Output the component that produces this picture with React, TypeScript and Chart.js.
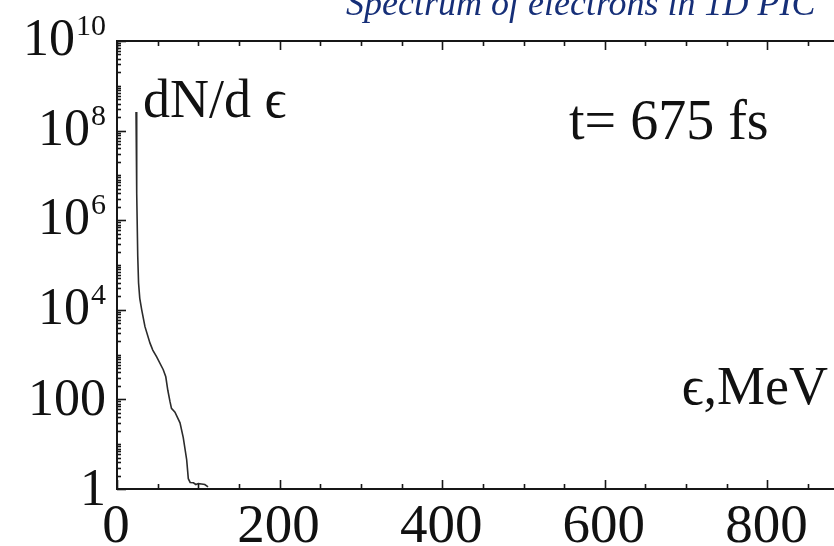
import React, { useEffect, useRef } from "react";
import { Chart, registerables } from "chart.js";

Chart.register(...registerables);

// Electron energy (MeV) and spectrum dN/dε
const energyMeV = [23.4, 24.0, 24.5, 25.5, 26.5, 28.0, 30.4, 34.4, 40.6, 44.0, 48.8, 56.9, 60.0, 62.5, 65.2, 67.0, 71.3, 77.5, 81.5, 85.7, 87.7, 90.0, 94.0, 97.0, 100.0, 104.0, 108.0, 112.0];
const dNdE = [2.6e8, 3.2e7, 4.0e6, 1.6e5, 4.0e4, 1.8e4, 1.0e4, 4200, 1800, 1260, 890, 460, 320, 160, 89, 63, 52, 30, 14, 4.5, 1.7, 1.4, 1.38, 1.26, 1.32, 1.29, 1.26, 1.12];

const xMin = 0;
const xMax = 1000;
const xTickValues = [0, 200, 400, 600, 800, 1000];
const xTickLabels = ["0", "200", "400", "600", "800", "1000"];
const xMinorStep = 50;

const yMin = 1;
const yMax = 1e10;
const yTickValues = [1, 1e2, 1e4, 1e6, 1e8, 1e10];
const yTickBases = ["1", "100", "10", "10", "10", "10"];
const yTickSups = ["", "", "4", "6", "8", "10"];

const titleText = "Spectrum of electrons in 1D PIC";
const spectrumLabel = "dN/d \u03F5";
const timeLabel = "t= 675 fs";
const axisLabel = "\u03F5,MeV";

const SERIF = "'Liberation Serif', 'Times New Roman', serif";

const decorPlugin = {
  id: "decor",
  afterDraw(chart: any) {
    const ctx: CanvasRenderingContext2D = chart.ctx;
    const { left, right, top, bottom } = chart.chartArea;
    const xs = chart.scales.x;
    const ys = chart.scales.y;
    ctx.save();
    ctx.strokeStyle = "#161616";
    ctx.lineWidth = 2;
    ctx.strokeRect(left, top, right - left, bottom - top);

    const seg = (x1: number, y1: number, x2: number, y2: number) => {
      ctx.beginPath();
      ctx.moveTo(x1, y1);
      ctx.lineTo(x2, y2);
      ctx.stroke();
    };

    // x ticks (bottom and top, inward)
    ctx.lineWidth = 1.6;
    for (let v = xMin; v <= xMax; v += xMinorStep) {
      const px = Math.round(xs.getPixelForValue(v)) + 0.5;
      const major = xTickValues.indexOf(v) >= 0;
      const len = major ? 9 : 5;
      seg(px, bottom, px, bottom - len);
      seg(px, top, px, top + len);
    }
    // y ticks (left and right, inward)
    for (let i = 0; i < yTickValues.length; i++) {
      const py = Math.round(ys.getPixelForValue(yTickValues[i])) + 0.5;
      seg(left, py, left + 9, py);
      seg(right, py, right - 9, py);
    }
    for (let d = 1; d <= 1e9; d *= 10) {
      for (let m = 2; m <= 10; m++) {
        const v = d * m;
        if (yTickValues.indexOf(v) >= 0) continue;
        const py = Math.round(ys.getPixelForValue(v)) + 0.5;
        seg(left, py, left + 4, py);
        seg(right, py, right - 4, py);
      }
    }

    // x tick labels
    ctx.fillStyle = "#111";
    ctx.font = `55px ${SERIF}`;
    ctx.textAlign = "center";
    ctx.textBaseline = "alphabetic";
    for (let i = 0; i < xTickValues.length; i++) {
      const px = xs.getPixelForValue(xTickValues[i]);
      ctx.fillText(xTickLabels[i], px - 1, 542);
    }

    // y tick labels with superscripts
    const labelRight = left - 11;
    for (let i = 0; i < yTickValues.length; i++) {
      const py = ys.getPixelForValue(yTickValues[i]);
      const sup = yTickSups[i];
      ctx.textAlign = "left";
      ctx.font = `30px ${SERIF}`;
      const supW = sup ? ctx.measureText(sup).width : 0;
      ctx.font = `52px ${SERIF}`;
      const baseW = ctx.measureText(yTickBases[i]).width;
      const baseline = py + (sup ? 14 : 16);
      const x0 = labelRight - supW - baseW - (sup ? 1 : 0);
      ctx.fillText(yTickBases[i], x0, baseline);
      if (sup) {
        ctx.font = `30px ${SERIF}`;
        ctx.fillText(sup, x0 + baseW + 1, baseline - 20);
      }
    }

    // annotations
    ctx.font = `54px ${SERIF}`;
    ctx.textAlign = "left";
    ctx.fillText(spectrumLabel, 143, 117);
    ctx.font = `56px ${SERIF}`;
    ctx.fillText(timeLabel, 569, 139);
    ctx.font = `54px ${SERIF}`;
    ctx.textAlign = "right";
    ctx.fillText(axisLabel, 828, 404);

    // title (partly cut by the top edge)
    ctx.fillStyle = "#162f78";
    ctx.font = `italic 36px ${SERIF}`;
    ctx.textAlign = "left";
    ctx.fillText(titleText, 346, 15);
    ctx.restore();
  },
};

export default function App() {
  const ref = useRef<HTMLCanvasElement | null>(null);
  useEffect(() => {
    if (!ref.current) return;
    const points = energyMeV.map((e, i) => ({ x: e, y: dNdE[i] }));
    const chart = new Chart(ref.current, {
      type: "line",
      data: {
        datasets: [
          {
            data: points,
            borderColor: "#2b2b2b",
            borderWidth: 1.6,
            pointRadius: 0,
            tension: 0,
            fill: false,
          },
        ],
      },
      options: {
        responsive: false,
        animation: false,
        devicePixelRatio: 1,
        layout: { padding: { left: 117, top: 41, right: 30, bottom: 57 } },
        plugins: { legend: { display: false }, title: { display: false }, tooltip: { enabled: false } },
        scales: {
          x: { type: "linear", min: xMin, max: xMax, display: false },
          y: { type: "logarithmic", min: yMin, max: yMax, display: false },
        },
      },
      plugins: [decorPlugin],
    });
    return () => chart.destroy();
  }, []);
  return (
    <div style={{ position: "fixed", left: 0, top: 0, width: "100vw", height: "100vh", overflow: "hidden", background: "#fff" }}>
      <canvas ref={ref} width={960} height={546} style={{ position: "absolute", left: 0, top: 0, width: 960, height: 546 }} />
    </div>
  );
}
